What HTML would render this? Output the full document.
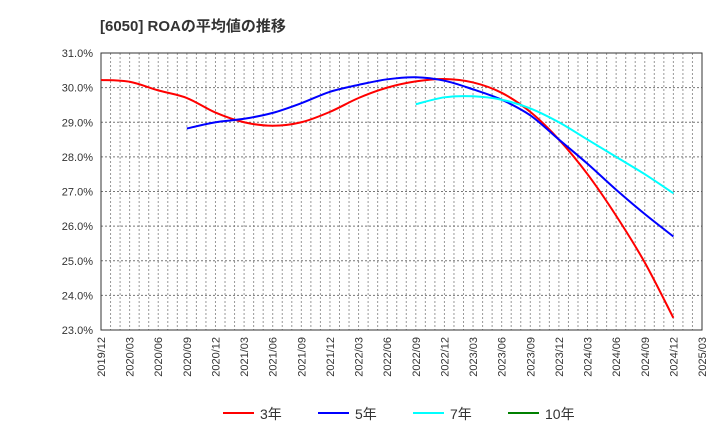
<!DOCTYPE html>
<html><head><meta charset="utf-8"><style>
body{margin:0;background:#fff;font-family:"Liberation Sans","Noto Sans CJK JP",sans-serif}
</style></head><body>
<svg id="c" width="720" height="440" xmlns="http://www.w3.org/2000/svg" font-family="Liberation Sans, Noto Sans CJK JP, sans-serif">
<text x="100" y="31" font-size="15" font-weight="bold" fill="#333">[6050]  ROAの平均値の推移</text>
<g id="grid"></g><g id="axes"></g><g id="series"></g><g id="legend"></g>
</svg>
<script>
const xLabels=["2019/12","2020/03","2020/06","2020/09","2020/12","2021/03","2021/06","2021/09","2021/12","2022/03","2022/06","2022/09","2022/12","2023/03","2023/06","2023/09","2023/12","2024/03","2024/06","2024/09","2024/12","2025/03"];
const yTicks=[23,24,25,26,27,28,29,30,31];
const s3=[30.22,30.17,29.92,29.7,29.28,29.0,28.9,29.0,29.3,29.7,30.0,30.18,30.25,30.15,29.85,29.3,28.5,27.5,26.3,24.95,23.35];
const s5=[null,null,null,28.82,29.0,29.1,29.27,29.55,29.88,30.08,30.24,30.3,30.2,29.95,29.65,29.2,28.5,27.8,27.05,26.35,25.7];
const s7=[null,null,null,null,null,null,null,null,null,null,null,29.52,29.72,29.75,29.65,29.4,29.0,28.5,28.0,27.5,26.95];
const s10=[];
const L=101,R=702,T=53,B=330,ns="http://www.w3.org/2000/svg";
const X=i=>L+(R-L)*i/(xLabels.length-1);
const Y=v=>B-(v-23)/(31-23)*(B-T);
function el(t,a,p){const e=document.createElementNS(ns,t);for(const k in a)e.setAttribute(k,a[k]);document.getElementById(p).appendChild(e);return e;}
const months=(xLabels.length-1)*3;
for(let m=1;m<months;m++){const x=L+(R-L)*m/months;
const g=el('line',{x1:x,x2:x,y1:T,y2:B,stroke:'#999','stroke-dasharray':'2,2','stroke-width':1},'grid');

}
yTicks.forEach(v=>{const g=el('line',{x1:L,x2:R,y1:Y(v),y2:Y(v),stroke:'#777','stroke-dasharray':'2,2','stroke-width':1},'grid');


const t=el('text',{x:L-8,y:Y(v)+4,'text-anchor':'end','font-size':11,fill:'#333'},'axes');t.textContent=v.toFixed(1)+'%';

});
xLabels.forEach((l,i)=>{const t=el('text',{transform:`translate(${X(i)+4},337) rotate(-90)`,'text-anchor':'end','font-size':11,fill:'#333'},'axes');t.textContent=l;

});
const fr=el('rect',{x:L,y:T,width:R-L,height:B-T,fill:'none',stroke:'#333','stroke-width':1},'axes');


function path(arr){const p=[];arr.forEach((v,i)=>{if(v!=null)p.push([X(i),Y(v)]);});if(p.length<2)return '';
let d=`M${p[0][0]},${p[0][1]}`;for(let i=0;i<p.length-1;i++){const p0=p[i-1]||p[i],p1=p[i],p2=p[i+1],p3=p[i+2]||p2;
d+=` C${p1[0]+(p2[0]-p0[0])/6},${p1[1]+(p2[1]-p0[1])/6} ${p2[0]-(p3[0]-p1[0])/6},${p2[1]-(p3[1]-p1[1])/6} ${p2[0]},${p2[1]}`;}return d;}
const ser=[[s3,'#ff0000','3年','series-3y'],[s5,'#0000ff','5年','series-5y'],[s7,'#00ffff','7年','series-7y'],[s10,'#008000','10年','series-10y']];
ser.forEach(([a,c,n,id],k)=>{const d=path(a);if(d){const p=el('path',{d:d,fill:'none',stroke:c,'stroke-width':2},'series');

}
const lx=[223,318,413,508][k];
const ln=el('line',{x1:lx,x2:lx+31,y1:413,y2:413,stroke:c,'stroke-width':2},'legend');


const t=el('text',{x:lx+37,y:419,'font-size':14,fill:'#333'},'legend');t.textContent=n;

});
</script></body></html>
